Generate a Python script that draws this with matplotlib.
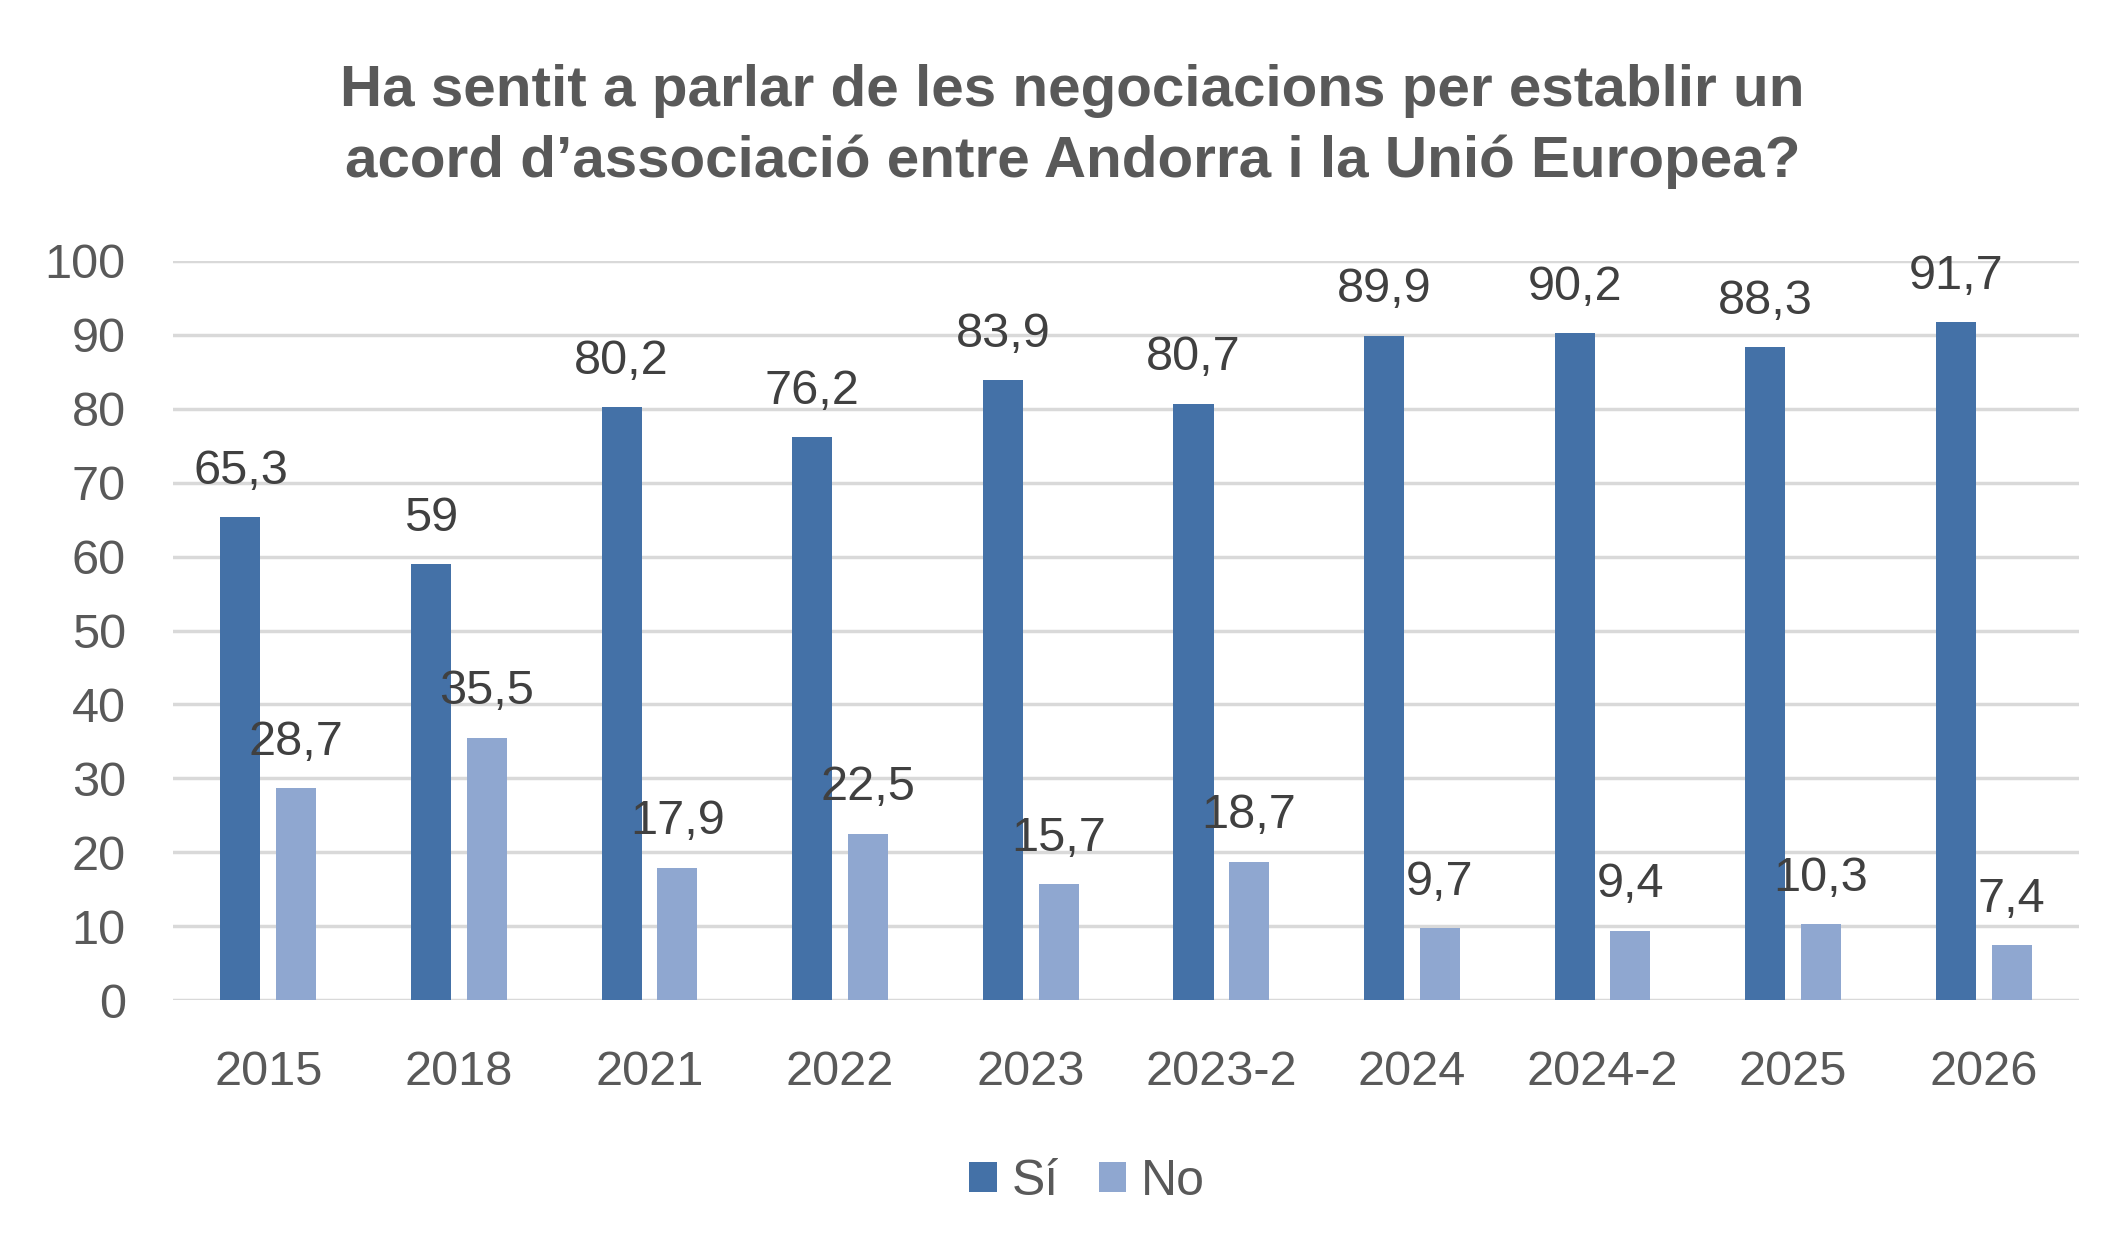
import matplotlib.pyplot as plt
import numpy as np

years = ['2015', '2018', '2021', '2022', '2023', '2023-2', '2024', '2024-2', '2025', '2026']
si = [65.3, 59, 80.2, 76.2, 83.9, 80.7, 89.9, 90.2, 88.3, 91.7]
no = [28.7, 35.5, 17.9, 22.5, 15.7, 18.7, 9.7, 9.4, 10.3, 7.4]

title = "Ha sentit a parlar de les negociacions per establir un\nacord d\u2019associaci\u00f3 entre Andorra i la Uni\u00f3 Europea?"

c_si = '#4471A7'
c_no = '#8FA7D0'
grey = '#595959'

plt.rcParams['font.family'] = ['Liberation Sans', 'DejaVu Sans']

fig = plt.figure(figsize=(21.15, 12.53), dpi=100)
ax = fig.add_axes([0.0818, 0.2019, 0.9012, 0.5898])

x = np.arange(len(years))
w = 0.21
off = 0.146
b1 = ax.bar(x - off, si, w, color=c_si, label='Sí', zorder=3)
b2 = ax.bar(x + off, no, w, color=c_no, label='No', zorder=3)

for bars, vals in [(b1, si), (b2, no)]:
    for r, v in zip(bars, vals):
        txt = f'{v:g}'.replace('.', ',')
        ax.annotate(txt, (r.get_x() + r.get_width() / 2, v), xytext=(0, 24),
                    textcoords='offset points', ha='center', va='baseline',
                    fontsize=35, color='#404040', annotation_clip=False)

ax.set_ylim(0, 100)
ax.set_xlim(-0.5, len(years) - 0.5)
ax.set_yticks(range(0, 101, 10))
ax.set_xticks(x)
ax.set_xticklabels(years)
ax.yaxis.grid(True, color='#D9D9D9', linewidth=2.5, zorder=0)
ax.set_axisbelow(True)
for s in ax.spines.values():
    s.set_visible(False)
ax.tick_params(axis='both', length=0, labelsize=35, colors=grey)
ax.tick_params(axis='y', pad=34)
ax.tick_params(axis='x', pad=36)

# title sits a bit lower, with wider line gap
fig.text(0.507, 0.899, title, ha='center', va='center', fontsize=42,
         fontweight='bold', color=grey, linespacing=1.38)

fig.legend(loc='center', bbox_to_anchor=(0.514, 0.057), ncol=2, frameon=False,
           fontsize=36, labelcolor=grey, handlelength=0.55, handleheight=0.55,
           handletextpad=0.3, columnspacing=0.8)

fig.savefig('out.png', dpi=100)
